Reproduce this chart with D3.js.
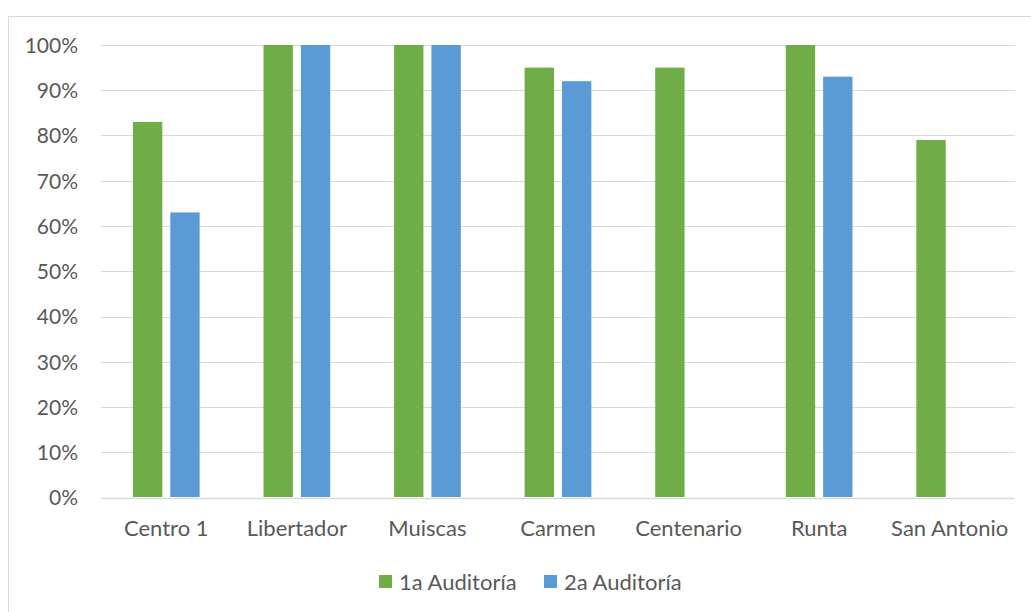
<!DOCTYPE html>
<html>
<head>
<meta charset="utf-8">
<script src="https://cdn.jsdelivr.net/npm/d3@7"></script>
<style>
  html, body { margin: 0; padding: 0; background: #fff; }
  svg { display: block; }
  text { font-family: Lato, "Open Sans", "Liberation Sans", sans-serif; fill: #595959; }
</style>
</head>
<body>
<svg id="chart" width="1031" height="612"></svg>
<script>
// Audit compliance by site
const categories = ["Centro 1", "Libertador", "Muiscas", "Carmen", "Centenario", "Runta", "San Antonio"];
const seriesNames = ["1a Auditoría", "2a Auditoría"];
const firstAudit = [83, 100, 100, 95, 95, 100, 79];
const secondAudit = [63, 100, 100, 92, null, 93, null];
const yTicks = [0, 10, 20, 30, 40, 50, 60, 70, 80, 90, 100];
const colors = ["#70AD47", "#5B9BD5"];

const svg = d3.select("#chart");
const plot = { left: 101, right: 1015, top: 45, bottom: 497.5 };

// Chart-area frame
svg.append("rect")
  .attr("x", 8.5).attr("y", 16.5)
  .attr("width", 1040).attr("height", 620)
  .attr("fill", "none").attr("stroke", "#D9D9D9").attr("stroke-width", 1);

const x0 = d3.scaleBand().domain(categories)
  .range([plot.left, plot.right]).paddingInner(0.489).paddingOuter(0.2445);
const x1 = d3.scaleBand().domain(seriesNames)
  .range([0, x0.bandwidth()]).paddingInner(0.214).paddingOuter(0);
const y = d3.scaleLinear().domain([0, 100]).range([plot.bottom, plot.top]);

// Gridlines
svg.append("g").selectAll("line").data(yTicks).join("line")
  .attr("x1", plot.left).attr("x2", plot.right)
  .attr("y1", d => Math.round(y(d)) + 0.5).attr("y2", d => Math.round(y(d)) + 0.5)
  .attr("stroke", "#D9D9D9").attr("stroke-width", d => d === 0 ? 1.5 : 1);

// Y axis labels
const yAxis = d3.axisLeft(y).tickValues(yTicks).tickFormat(d => d + "%").tickSize(0).tickPadding(0);
svg.append("g").attr("transform", `translate(78,0)`).call(yAxis)
  .call(g => g.select(".domain").remove())
  .selectAll("text").style("font-size", "21px").attr("dy", "0.35em").attr("fill", "#595959");

// Bars
const rows = categories.map((c, i) => ({ cat: c, vals: [firstAudit[i], secondAudit[i]] }));
const groups = svg.append("g").selectAll("g").data(rows).join("g")
  .attr("transform", d => `translate(${x0(d.cat)},0)`);
groups.selectAll("rect")
  .data(d => d.vals.map((v, k) => ({ name: seriesNames[k], v, k })).filter(e => e.v != null))
  .join("rect")
  .attr("x", e => x1(e.name))
  .attr("width", x1.bandwidth())
  .attr("y", e => y(e.v))
  .attr("height", e => plot.bottom - 0.5 - y(e.v))
  .attr("fill", e => colors[e.k]);

// X axis labels
const xAxis = d3.axisBottom(x0).tickSize(0).tickPadding(0);
svg.append("g").attr("transform", `translate(0,${plot.bottom})`).call(xAxis)
  .call(g => g.select(".domain").remove())
  .selectAll("text").style("font-size", "22px").attr("y", 38.5).attr("dy", 0).attr("fill", "#595959");

// Legend
const legendItems = [{ name: seriesNames[0], x: 379, c: colors[0] }, { name: seriesNames[1], x: 544, c: colors[1] }];
const lg = svg.append("g").selectAll("g").data(legendItems).join("g")
  .attr("transform", d => `translate(${d.x},575)`);
lg.append("rect").attr("width", 13).attr("height", 13).attr("fill", d => d.c);
lg.append("text").attr("x", 20).attr("y", 14.5).style("font-size", "22px").text(d => d.name);
</script>
</body>
</html>
